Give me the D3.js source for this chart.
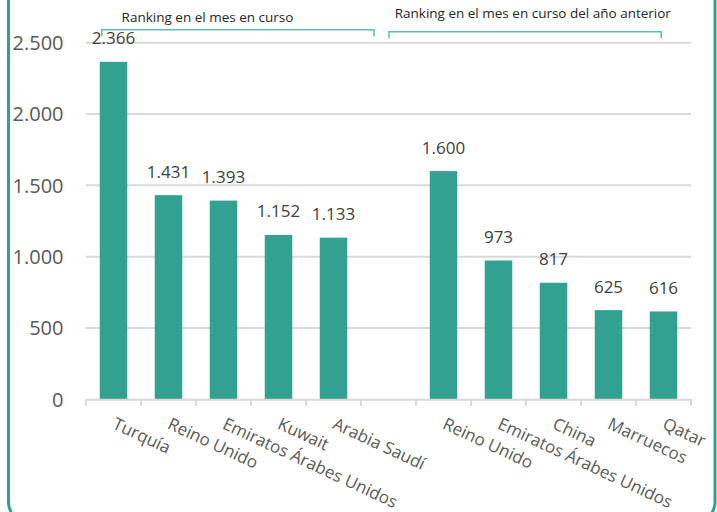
<!DOCTYPE html>
<html><head><meta charset="utf-8">
<script src="https://cdn.jsdelivr.net/npm/d3@7"></script>
<style>html,body{margin:0;padding:0;background:#fff;}svg{display:block;}</style>
</head><body>
<svg id="c" width="717" height="512"></svg>
<script>
const categories = ["Turquía","Reino Unido","Emiratos Árabes Unidos","Kuwait","Arabia Saudí","","Reino Unido","Emiratos Árabes Unidos","China","Marruecos","Qatar"];
const values = [2366,1431,1393,1152,1133,null,1600,973,817,625,616];
const valueLabels = ["2.366","1.431","1.393","1.152","1.133","","1.600","973","817","625","616"];
const yTicks = [0,500,1000,1500,2000,2500];
const yTickLabels = ["0","500","1.000","1.500","2.000","2.500"];
const groupTitles = ["Ranking en el mes en curso","Ranking en el mes en curso del año anterior"];
const groupRanges = [[0,4],[6,10]];

(function(){
const svg = d3.select("#c");
const pLeft = 86, pRight = 691, pTop = 42.7, pBottom = 399.3;
const idx = categories.map((d,i)=>i);
const x = d3.scaleBand().domain(idx).range([pLeft,pRight]).paddingInner(0.5).paddingOuter(0.25);
const xb = d3.scaleBand().domain(idx).range([pLeft,pRight]);
const y = d3.scaleLinear().domain([0,2500]).range([pBottom,pTop]);

// frame
svg.append("rect").attr("x",8.5).attr("y",-30).attr("width",706.5).attr("height",552)
  .attr("rx",20).attr("fill","none").attr("stroke","#2ea193").attr("stroke-width",3);

// gridlines
svg.append("g").selectAll("line").data(yTicks.slice(1)).join("line")
  .attr("x1",pLeft).attr("x2",pRight).attr("y1",d=>y(d)).attr("y2",d=>y(d))
  .attr("stroke","#d9d9d9").attr("stroke-width",2);

// y labels
svg.append("g").selectAll("text").data(yTicks).join("text")
  .attr("x",63.5).attr("y",d=>y(d)).attr("dy","0.36em").attr("text-anchor","end")
  .attr("font-family","Open Sans").attr("font-size",20).attr("fill","#595959")
  .text((d,i)=>yTickLabels[i]);

// bars
svg.append("g").selectAll("rect").data(idx.filter(i=>values[i]!=null)).join("rect")
  .attr("x",i=>x(i)).attr("width",x.bandwidth())
  .attr("y",i=>y(values[i])).attr("height",i=>pBottom-y(values[i]))
  .attr("fill","#33a192");

// x axis line + ticks
svg.append("line").attr("x1",pLeft).attr("x2",pRight).attr("y1",pBottom+0.5).attr("y2",pBottom+0.5)
  .attr("stroke","#d9d9d9").attr("stroke-width",2);
const tickXs = idx.map(i=>xb(i)).concat([pRight]);
svg.append("g").selectAll("line").data(tickXs).join("line")
  .attr("x1",d=>d).attr("x2",d=>d).attr("y1",pBottom).attr("y2",pBottom+6.5)
  .attr("stroke","#d9d9d9").attr("stroke-width",2);

// value labels
svg.append("g").selectAll("text").data(idx.filter(i=>values[i]!=null)).join("text")
  .attr("x",i=>x(i)+x.bandwidth()/2).attr("y",i=>y(values[i])-17.5)
  .attr("text-anchor","middle").attr("font-family","Open Sans").attr("font-size",17)
  .attr("fill","#404040").text(i=>valueLabels[i]);

// x labels
svg.append("g").selectAll("text").data(idx).join("text")
  .attr("transform",i=>`translate(${x(i)+x.bandwidth()/2-2},${428}) rotate(25)`)
  .attr("text-anchor","start").attr("font-family","Open Sans").attr("font-size",17)
  .attr("fill","#595959").text(i=>categories[i]);

// group brackets
const bracketY = [29.7,31.7];
const bx = [[101.7,374],[389,661.3]];
groupRanges.forEach((r,k)=>{
  const x0 = bx[k][0], x1 = bx[k][1], yy = bracketY[k];
  svg.append("path").attr("d",`M${x0},${yy+6.5}V${yy}H${x1}V${yy+6.5}`)
    .attr("fill","none").attr("stroke","#5bbcb0").attr("stroke-width",1.5);
});
svg.append("text").attr("x",207.5).attr("y",22).attr("text-anchor","middle")
  .attr("font-family","Open Sans").attr("font-size",13.5).attr("fill","#262626").text(groupTitles[0]);
svg.append("text").attr("x",532.8).attr("y",18.3).attr("text-anchor","middle")
  .attr("font-family","Open Sans").attr("font-size",13.5).attr("fill","#262626").text(groupTitles[1]);
})();
</script>
</body></html>
